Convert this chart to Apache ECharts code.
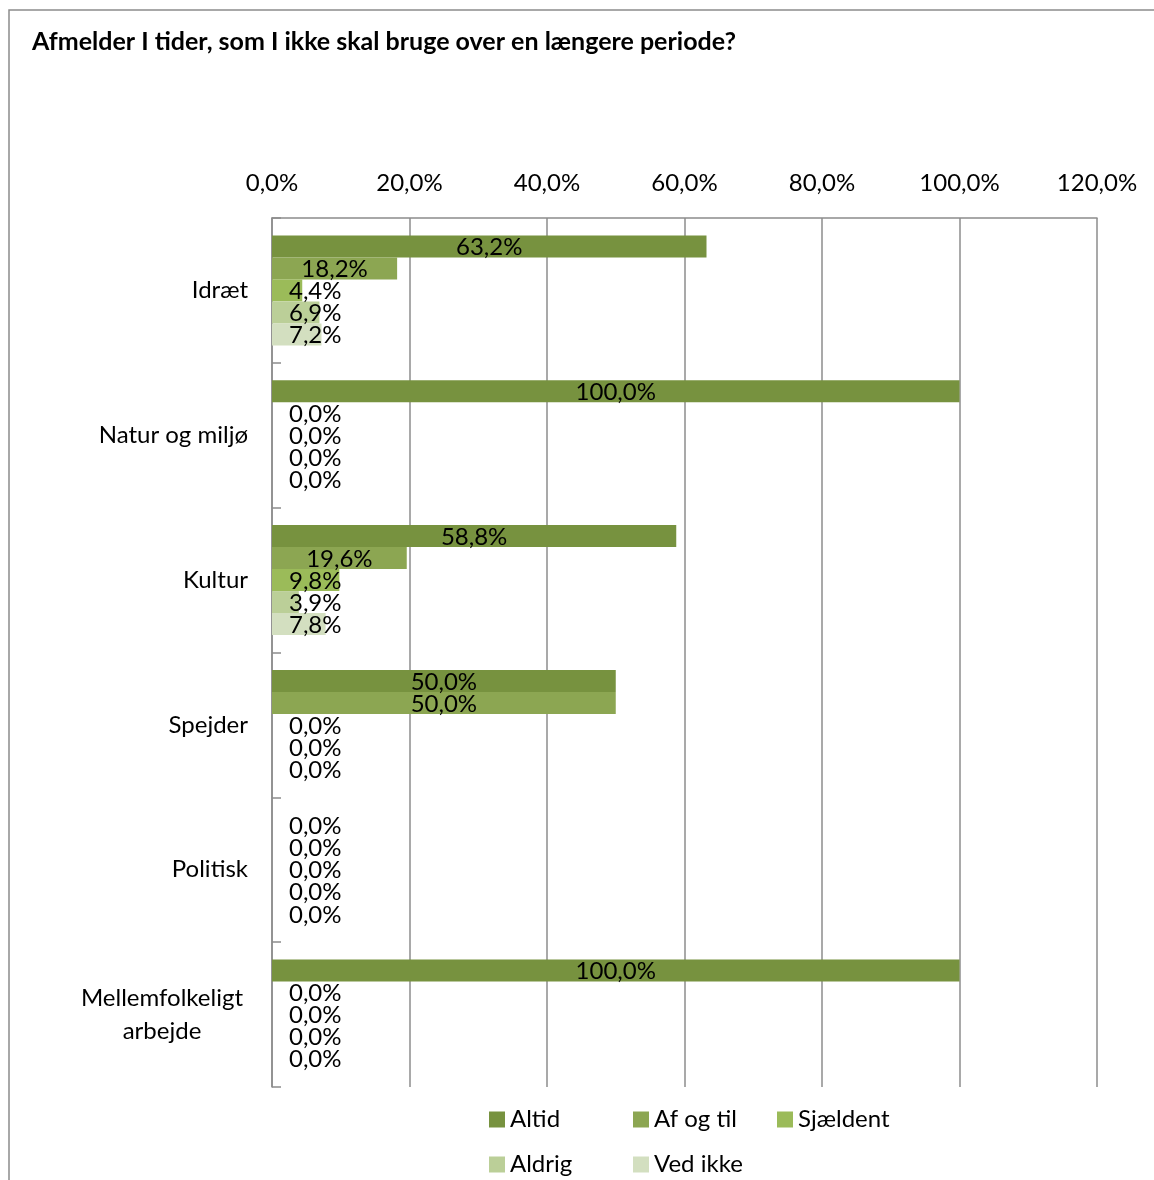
<!DOCTYPE html>
<html>
<head>
<meta charset="utf-8">
<script src="https://cdn.jsdelivr.net/npm/echarts@6/dist/echarts.min.js"></script>
<style>
  html, body { margin: 0; padding: 0; background: #ffffff; }
  #chart { width: 1154px; height: 1180px; }
</style>
</head>
<body>
<div id="chart"></div>
<script>
const titleText = 'Afmelder I tider, som I ikke skal bruge over en længere periode?';
const categories = ['Idræt', 'Natur og miljø', 'Kultur', 'Spejder', 'Politisk', 'Mellemfolkeligt arbejde'];
const seriesNames = ['Altid', 'Af og til', 'Sjældent', 'Aldrig', 'Ved ikke'];
const altid     = [63.2, 100.0, 58.8, 50.0, 0.0, 100.0];
const afOgTil   = [18.2,   0.0, 19.6, 50.0, 0.0,   0.0];
const sjaeldent = [ 4.4,   0.0,  9.8,  0.0, 0.0,   0.0];
const aldrig    = [ 6.9,   0.0,  3.9,  0.0, 0.0,   0.0];
const vedIkke   = [ 7.2,   0.0,  7.8,  0.0, 0.0,   0.0];
const tickValues = [0, 20, 40, 60, 80, 100, 120];

const colors = ['#77923F', '#8CA652', '#9BBB59', '#BBCF98', '#D3DFC0'];
const FONT = 'Lato, "Open Sans", sans-serif';
const FS = 24;
const fmt = v => Number(v).toFixed(1).replace('.', ',') + '%';

const seriesData = [altid, afOgTil, sjaeldent, aldrig, vedIkke];
const chart = echarts.init(document.getElementById('chart'));

const series = seriesNames.map((name, i) => ({
  name: name,
  type: 'bar',
  data: seriesData[i],
  barGap: '0%',
  barCategoryGap: '24%',
  itemStyle: { color: colors[i] },
  label: {
    show: true,
    position: 'inside',
    formatter: p => fmt(p.value),
    color: '#000000',
    fontFamily: FONT,
    fontSize: FS
  },
  labelLayout: function (params) {
    const r = params.rect;
    const lr = params.labelRect;
    const cx = r.x + r.width / 2;
    let left = cx - lr.width / 2;
    const minLeft = r.x + 17;
    if (left < minLeft) left = minLeft;
    return { x: left, y: r.y + r.height / 2 + 1, align: 'left', verticalAlign: 'middle' };
  }
}));

chart.setOption({
  backgroundColor: '#ffffff',
  animation: false,
  color: colors,
  title: {
    text: titleText,
    left: 32,
    top: 29,
    padding: 0,
    textStyle: { fontFamily: FONT, fontWeight: 'bold', fontSize: 25, color: '#000000' }
  },
  graphic: [{
    type: 'rect',
    shape: { x: 9, y: 10, width: 1300, height: 1400 },
    style: { fill: 'none', stroke: '#8c8c8c', lineWidth: 1.5 },
    silent: true
  }],
  legend: {
    data: seriesNames,
    left: 489,
    top: 1103,
    width: 440,
    padding: 0,
    itemWidth: 16,
    itemHeight: 16,
    itemGap: 12,
    icon: 'rect',
    textStyle: { fontFamily: FONT, fontSize: FS, color: '#000000', width: 111, lineHeight: 33 }
  },
  grid: { left: 272, right: 57, top: 218, bottom: 93, containLabel: false },
  xAxis: {
    type: 'value',
    position: 'top',
    min: 0,
    max: 120,
    interval: 20,
    axisLine: { show: true, lineStyle: { color: '#8c8c8c', width: 1.5 } },
    axisTick: { show: false },
    splitLine: { show: true, lineStyle: { color: '#8c8c8c', width: 1.5 } },
    axisLabel: {
      formatter: v => fmt(v),
      margin: 23,
      fontFamily: FONT,
      fontSize: FS,
      color: '#000000'
    }
  },
  yAxis: {
    type: 'category',
    inverse: true,
    data: categories,
    axisLine: { show: true, lineStyle: { color: '#8c8c8c', width: 1.5 } },
    axisTick: { show: true, inside: true, length: 9, lineStyle: { color: '#8c8c8c', width: 1.5 } },
    splitLine: { show: false },
    axisLabel: {
      margin: 24,
      fontFamily: FONT,
      fontSize: FS,
      color: '#000000',
      formatter: v => v.length > 20 ? '{c|' + v.replace(' ', '\n') + '}' : v,
      rich: {
        c: { width: 172, align: 'center', fontFamily: FONT, fontSize: FS, lineHeight: 33, color: '#000000' }
      }
    }
  },
  series: series
});
</script>
</body>
</html>
